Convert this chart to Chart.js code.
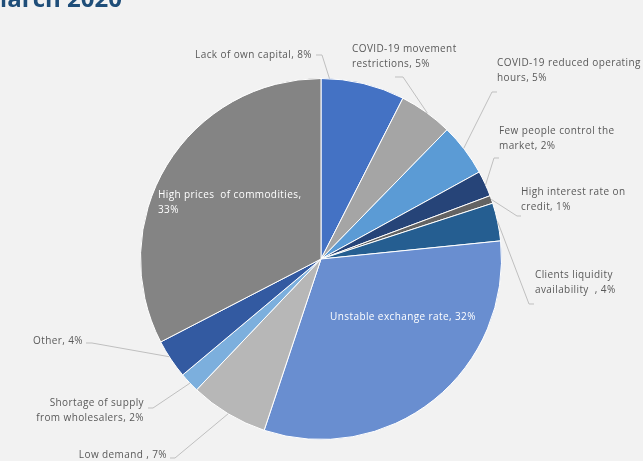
<!DOCTYPE html>
<html>
<head>
<meta charset="utf-8">
<script src="https://cdn.jsdelivr.net/npm/chart.js@4"></script>
<style>
  body { margin: 0; background: #F2F2F2; }
  #wrap { width: 643px; height: 461px; position: relative; }
</style>
</head>
<body>
<div id="wrap"><canvas id="myChart"></canvas></div>
<script>
// data
const categories = [
  'Lack of own capital',
  'COVID-19 movement restrictions',
  'COVID-19 reduced operating hours',
  'Few people control the market',
  'High interest rate on credit',
  'Clients liquidity availability',
  'Unstable exchange rate',
  'Low demand',
  'Shortage of supply from wholesalers',
  'Other',
  'High prices of commodities'
];
// printed percentages
const printedPct = [8, 5, 5, 2, 1, 4, 32, 7, 2, 4, 33];
// slice shares
const shares = [7.5, 4.8, 4.7, 2.3, 0.7, 3.4, 31.7, 7.0, 1.8, 3.5, 32.6];

const colors = [
  '#4472C4', '#A5A5A5', '#5B9BD5', '#264478', '#636363', '#255E91',
  '#698ED0', '#B7B7B7', '#7CAFDD', '#335AA1', '#848484'
];

// label layout (text lines, position, alignment, leader start, where leader hits the arc)
const labelLayout = [
  { lines: ['Lack of own capital, 8%'], x: 312, y: 55, align: 'right', lead: [[316, 55], [322, 55]], t: 0.1 },
  { lines: ['COVID-19 movement', 'restrictions, 5%'], x: 352, y: 49, align: 'left', lead: [[395, 77], [403, 77]], t: 0.53 },
  { lines: ['COVID-19 reduced operating', 'hours, 5%'], x: 497, y: 63, align: 'left', lead: [[497, 92], [492, 92]], t: 0.47 },
  { lines: ['Few people control the', 'market, 2%'], x: 499, y: 131, align: 'left', lead: [[499, 158], [494, 158]], t: 0.55 },
  { lines: ['High interest rate on', 'credit, 1%'], x: 521, y: 192, align: 'left', lead: [[521, 216], [517, 216]], t: 0.5 },
  { lines: ['Clients liquidity', 'availability  , 4%'], x: 535, y: 275, align: 'left', lead: [[534, 304], [529, 304]], t: 0.49 },
  { lines: ['Unstable exchange rate, 32%'], x: 403, y: 317, align: 'center', inside: true },
  { lines: ['Low demand , 7%'], x: 167, y: 455, align: 'right', lead: [[170, 458], [175, 458]], t: 0.5 },
  { lines: ['Shortage of supply', 'from wholesalers, 2%'], x: 144, y: 403, align: 'right', lead: [[148, 408], [153, 408]], t: 0.46 },
  { lines: ['Other, 4%'], x: 83, y: 341, align: 'right', lead: [[86, 343], [92, 343]], t: 0.57 },
  { lines: ['High prices  of commodities,', '33%'], x: 158, y: 195, align: 'left', inside: true }
];

// title + labels drawn on top
const sliceLabels = {
  id: 'sliceLabels',
  afterDraw(chart) {
    const ctx = chart.ctx;
    const arcs = chart.getDatasetMeta(0).data;
    ctx.save();

    // title (cut at the top like the original)
    ctx.font = 'bold 24px "Open Sans"';
    ctx.fillStyle = '#1F4E79';
    ctx.textAlign = 'right';
    ctx.textBaseline = 'alphabetic';
    ctx.fillText('March 2020', 122, 7);

    ctx.font = '10px "Open Sans"';
    ctx.letterSpacing = '0.4px';
    ctx.textBaseline = 'middle';
    labelLayout.forEach((lb, i) => {
      const arc = arcs[i];
      if (lb.lead) {
        const a = arc.startAngle + (arc.endAngle - arc.startAngle) * lb.t;
        const px = arc.x + Math.cos(a) * arc.outerRadius;
        const py = arc.y + Math.sin(a) * arc.outerRadius;
        ctx.strokeStyle = '#BFBFBF';
        ctx.lineWidth = 1;
        ctx.beginPath();
        ctx.moveTo(lb.lead[0][0], lb.lead[0][1]);
        ctx.lineTo(lb.lead[1][0], lb.lead[1][1]);
        ctx.lineTo(px, py);
        ctx.stroke();
      }
      ctx.fillStyle = lb.inside ? '#FFFFFF' : '#595959';
      ctx.textAlign = lb.align;
      lb.lines.forEach((txt, j) => {
        ctx.fillText(txt, lb.x, lb.y + j * 15);
      });
    });
    ctx.restore();
  }
};

const config = {
  type: 'pie',
  data: {
    labels: categories,
    datasets: [{
      data: shares,
      backgroundColor: colors,
      borderColor: '#FFFFFF',
      borderWidth: 1
    }]
  },
  options: {
    responsive: true,
    maintainAspectRatio: false,
    animation: false,
    layout: {
      padding: { top: 78, bottom: 21, left: 140, right: 141 }
    },
    plugins: {
      legend: { display: false },
      tooltip: { enabled: false },
      title: { display: false }
    }
  },
  plugins: [sliceLabels]
};

const myChart = new Chart(document.getElementById('myChart'), config);
</script>
</body>
</html>
